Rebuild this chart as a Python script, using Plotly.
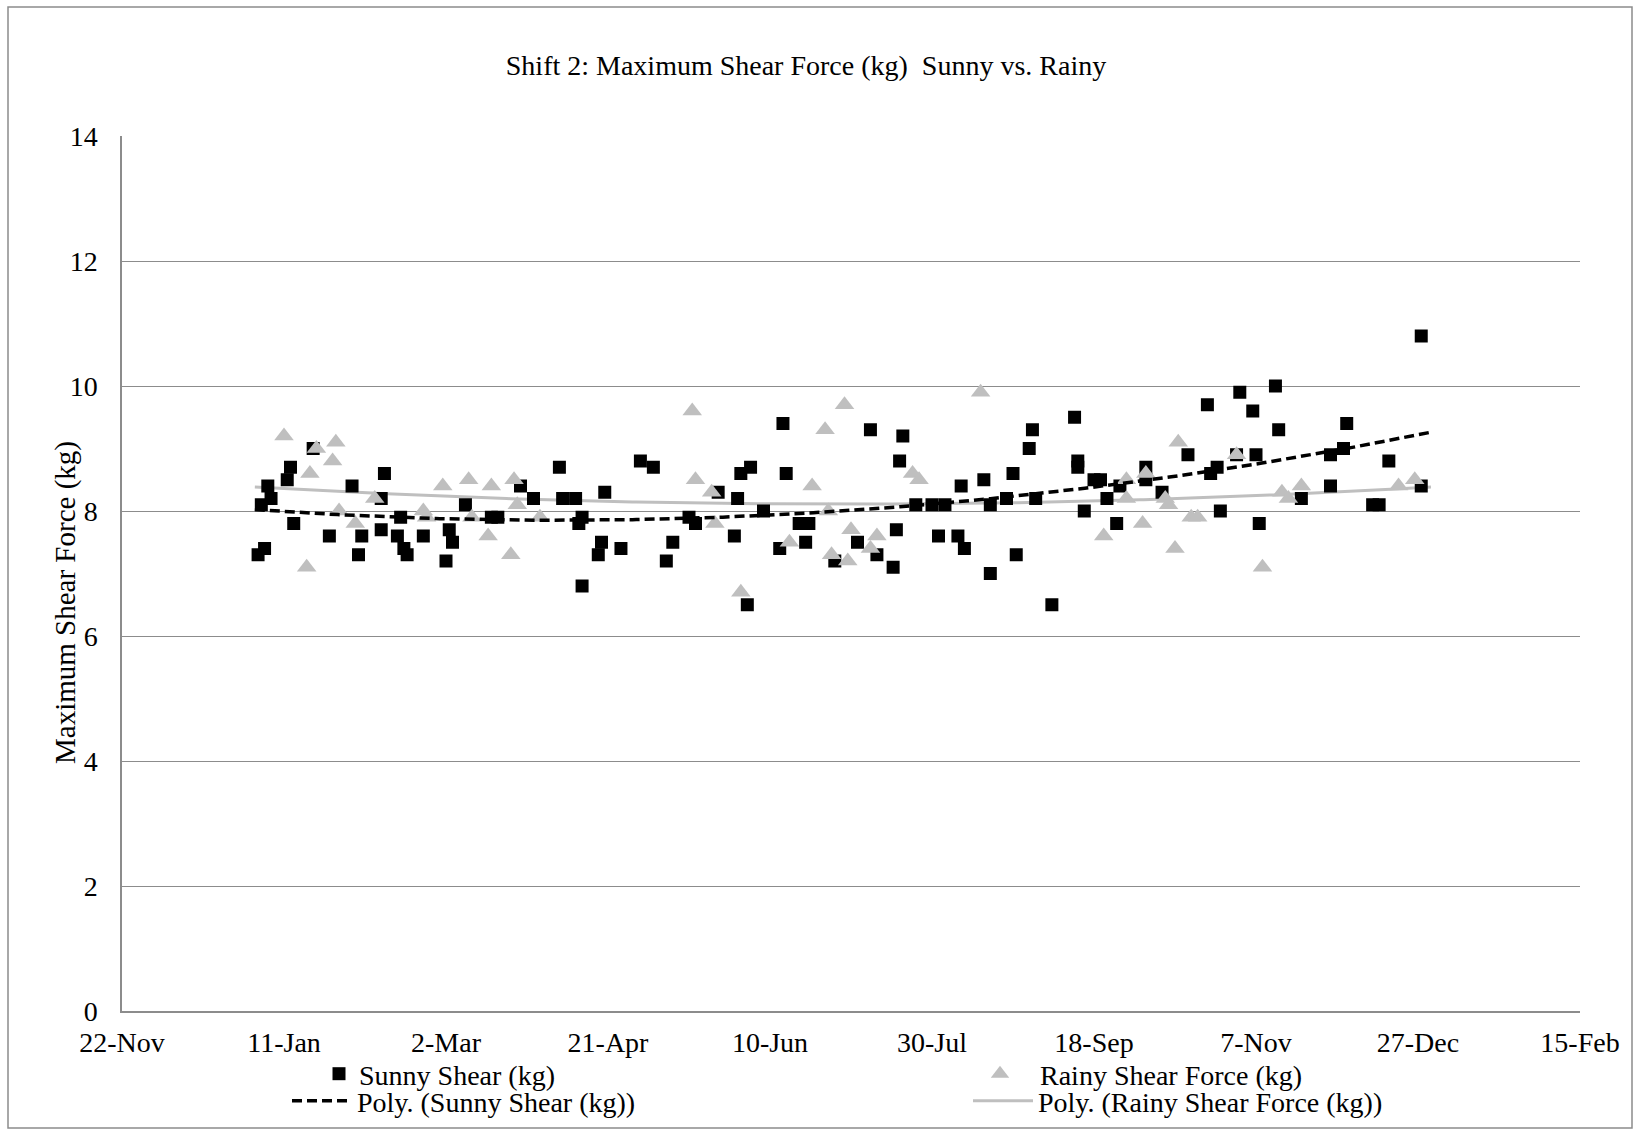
import numpy as np
import pandas as pd
import plotly.graph_objects as go

# Sampling days (day of year 2013) and maximum shear force readings (kg)
SUNNY_DAY = [3, 4, 5, 6, 7, 12, 13, 14, 20, 25,
             32, 34, 35, 41, 41, 42, 46, 47, 48, 49,
             54, 61, 62, 63, 67, 75, 77, 84, 88, 96,
             97, 101, 102, 103, 103, 108, 109, 110, 115, 121,
             125, 129, 131, 136, 138, 145, 150, 151, 152, 154,
             155, 159, 164, 165, 166, 170, 172, 173, 181, 188,
             192, 194, 199, 200, 201, 202, 206, 211, 213, 215,
             219, 220, 221, 227, 229, 229, 234, 236, 237, 241,
             242, 243, 248, 255, 256, 256, 258, 261, 263, 265,
             268, 269, 277, 277, 282, 290, 296, 297, 299, 300,
             305, 306, 310, 311, 312, 317, 318, 325, 334, 334,
             338, 339, 347, 349, 352, 362, 362]
SUNNY_KG = [7.3, 8.1, 7.4, 8.4, 8.2, 8.5, 8.7, 7.8, 9.0, 7.6,
            8.4, 7.3, 7.6, 7.7, 8.2, 8.6, 7.6, 7.9, 7.4, 7.3,
            7.6, 7.2, 7.7, 7.5, 8.1, 7.9, 7.9, 8.4, 8.2, 8.7,
            8.2, 8.2, 7.8, 7.9, 6.8, 7.3, 7.5, 8.3, 7.4, 8.8,
            8.7, 7.2, 7.5, 7.9, 7.8, 8.3, 7.6, 8.2, 8.6, 6.5,
            8.7, 8.0, 7.4, 9.4, 8.6, 7.8, 7.5, 7.8, 7.2, 7.5,
            9.3, 7.3, 7.1, 7.7, 8.8, 9.2, 8.1, 8.1, 7.6, 8.1,
            7.6, 8.4, 7.4, 8.5, 8.1, 7.0, 8.2, 8.6, 7.3, 9.0,
            9.3, 8.2, 6.5, 9.5, 8.7, 8.8, 8.0, 8.5, 8.5, 8.2,
            7.8, 8.4, 8.7, 8.5, 8.3, 8.9, 9.7, 8.6, 8.7, 8.0,
            8.9, 9.9, 9.6, 8.9, 7.8, 10.0, 9.3, 8.2, 8.4, 8.9,
            9.0, 9.4, 8.1, 8.1, 8.8, 8.4, 10.8]

RAINY_DAY = [11, 18, 19, 21, 26, 27, 28, 33, 39, 54,
             55, 60, 68, 69, 74, 75, 81, 82, 83, 90,
             137, 138, 143, 144, 152, 167, 174, 178, 179, 180,
             184, 185, 186, 192, 194, 205, 207, 226, 264, 271,
             271, 276, 277, 283, 284, 286, 287, 291, 293, 305,
             313, 319, 321, 325, 355, 360]
RAINY_KG = [9.2, 7.1, 8.6, 9.0, 8.8, 9.1, 8.0, 7.8, 8.2, 8.0,
            7.9, 8.4, 8.5, 7.9, 7.6, 8.4, 7.3, 8.5, 8.1, 7.9,
            9.6, 8.5, 8.3, 7.8, 6.7, 7.5, 8.4, 9.3, 8.0, 7.3,
            9.7, 7.2, 7.7, 7.4, 7.6, 8.6, 8.5, 9.9, 7.6, 8.5,
            8.2, 7.8, 8.6, 8.2, 8.1, 7.4, 9.1, 7.9, 7.9, 8.9,
            7.1, 8.3, 8.2, 8.4, 8.4, 8.5]

YEAR_START = "2013-01-01"
TREND_SPAN = (2, 365)          # first and last sampling day of the season
X_RANGE = ["2012-11-22", "2014-02-15"]
Y_TICKS = [0, 2, 4, 6, 8, 10, 12, 14]

TITLE = "Shift 2: Maximum Shear Force (kg)  Sunny vs. Rainy"
Y_TITLE = "Maximum Shear Force (kg)"
SUNNY_NAME = "Sunny Shear (kg)"
RAINY_NAME = "Rainy Shear Force (kg)"

FONT = "Liberation Serif, Times New Roman, serif"
GRID = "#8c8c8c"
RAIN_GREY = "#bfbfbf"


def to_dates(days):
    return pd.Timestamp(YEAR_START) + pd.to_timedelta(np.asarray(days) - 1, unit="D")


def poly_trend(days, values, order=2, n=300):
    coef = np.polyfit(np.asarray(days, float), np.asarray(values, float), order)
    xs = np.linspace(TREND_SPAN[0], TREND_SPAN[1], n)
    return to_dates(xs), np.polyval(coef, xs)


sunny_x = to_dates(SUNNY_DAY)
rainy_x = to_dates(RAINY_DAY)
sunny_tx, sunny_ty = poly_trend(SUNNY_DAY, SUNNY_KG)
rainy_tx, rainy_ty = poly_trend(RAINY_DAY, RAINY_KG)

fig = go.Figure()

fig.add_trace(go.Scatter(
    x=rainy_tx, y=rainy_ty, mode="lines", name="Poly. (" + RAINY_NAME + ")",
    line=dict(color=RAIN_GREY, width=3), legend="legend4", hoverinfo="skip"))
fig.add_trace(go.Scatter(
    x=sunny_x, y=SUNNY_KG, mode="markers", name=SUNNY_NAME,
    marker=dict(symbol="square", size=13, color="#000000"), legend="legend"))
fig.add_trace(go.Scatter(
    x=rainy_x, y=RAINY_KG, mode="markers", name=RAINY_NAME,
    marker=dict(symbol="triangle-up", size=17, color=RAIN_GREY), legend="legend2"))
fig.add_trace(go.Scatter(
    x=sunny_tx, y=sunny_ty, mode="lines", name="Poly. (" + SUNNY_NAME + ")",
    line=dict(color="#000000", width=3.5, dash="10px,5px"), legend="legend3",
    hoverinfo="skip"))

# plot-area geometry in pixels, used to place legends and the frame
W, H = 1635, 1129
L, R, T, B = 122, 55, 136, 118
pw, ph = W - L - R, H - T - B


def px(xp):
    return (xp - L) / pw


def py(yp):
    return (H - B - yp) / ph


legend_common = dict(bgcolor="rgba(0,0,0,0)", borderwidth=0,
                     font=dict(family=FONT, size=28, color="#000000"),
                     xanchor="left", yanchor="middle", orientation="v")

fig.update_layout(
    width=W, height=H,
    margin=dict(l=L, r=R, t=T, b=B, autoexpand=False),
    paper_bgcolor="#ffffff", plot_bgcolor="#ffffff",
    font=dict(family=FONT, size=28, color="#000000"),
    title=dict(text=TITLE, x=px(806), xref="paper", xanchor="center",
               y=1 - 65 / H, yref="container", yanchor="middle",
               font=dict(family=FONT, size=28, color="#000000")),
    xaxis=dict(type="date", range=X_RANGE, tick0=X_RANGE[0],
               dtick=50 * 86400000, tickformat="%-d-%b",
               showgrid=False, showline=True, linecolor=GRID, linewidth=1.5,
               ticks="", ticklabelstandoff=6, zeroline=False,
               tickfont=dict(family=FONT, size=28, color="#000000")),
    yaxis=dict(range=[0, 14], tickvals=Y_TICKS, showgrid=True,
               gridcolor=GRID, gridwidth=1.2, showline=True, linecolor=GRID,
               linewidth=1.5, ticks="", ticklabelstandoff=17, zeroline=False,
               tickfont=dict(family=FONT, size=28, color="#000000")),
    legend=dict(x=px(319), y=py(1074), itemwidth=30, **legend_common),
    legend2=dict(x=px(960), y=py(1074), itemwidth=70, **legend_common),
    legend3=dict(x=px(287), y=py(1101), itemwidth=60, **legend_common),
    legend4=dict(x=px(968), y=py(1101), itemwidth=60, **legend_common),
    annotations=[dict(text=Y_TITLE, textangle=-90, xref="paper", yref="paper",
                      x=px(65), y=py(603), xanchor="center", yanchor="middle",
                      showarrow=False,
                      font=dict(family=FONT, size=29, color="#000000"))],
    shapes=[dict(type="rect", xref="paper", yref="paper", layer="below",
                 x0=px(8), x1=px(1632), y0=py(1128), y1=py(7),
                 line=dict(color=GRID, width=1.5), fillcolor="rgba(0,0,0,0)")],
    showlegend=True,
)

fig.write_html("out.html")
